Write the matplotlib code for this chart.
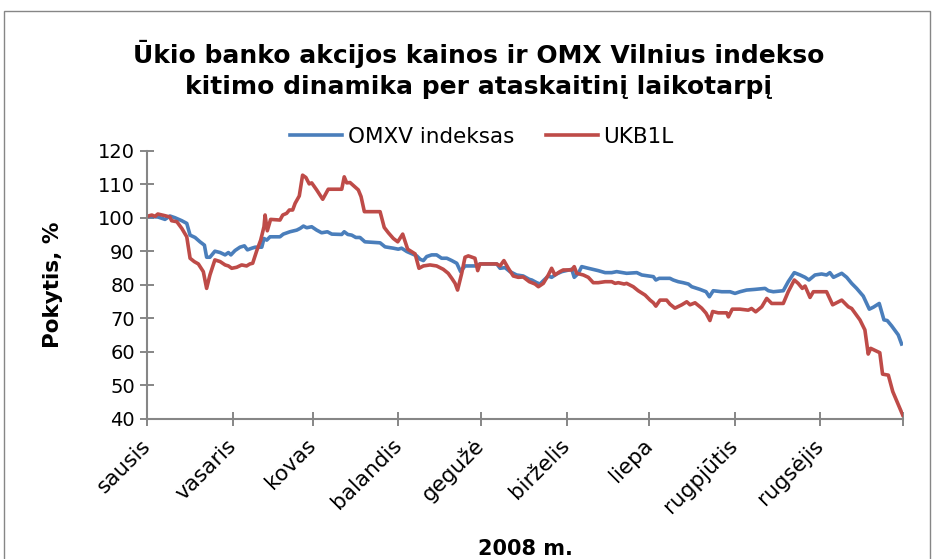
import numpy as np
import matplotlib
matplotlib.use("Agg")
import matplotlib.pyplot as plt
from matplotlib.patches import Rectangle
from matplotlib.transforms import ScaledTranslation

# days since 2008-01-01 and % change
omx_days = [0.0, 3.9, 6.4, 8.2, 10.0, 12.5, 14.3, 15.5, 17.3, 19.1, 20.7, 21.5, 22.7, 24.5, 26.4,
            28.2, 29.4, 30.3, 31.8, 33.6, 35.2, 36.3, 37.9, 39.1, 41.5, 42.3, 43.3, 44.5, 48.1,
            49.3, 51.7, 54.2, 55.4, 56.6, 57.8, 59.6, 61.4, 63.2, 65.3, 66.9, 70.5, 71.4, 72.7,
            74.1, 75.6, 77.1, 78.9, 84.4, 86.2, 89.2, 91.0, 92.2, 94.1, 97.7, 98.9, 100.1, 101.3,
            103.1, 104.9, 106.7, 108.6, 110.4, 112.2, 113.6, 115.2, 119.4, 120.6, 126.7, 127.9,
            129.7, 131.5, 133.9, 136.3, 138.5, 139.4, 141.2, 142.4, 143.6, 145.4, 146.6, 148.4,
            150.3, 153.9, 154.8, 156.3, 157.5, 159.9, 163.5, 166.0, 168.4, 170.2, 173.8, 177.5,
            179.3, 181.7, 183.5, 184.4, 185.6, 189.5, 190.7, 192.5, 194.3, 196.2, 197.4, 200.4,
            202.6, 203.8, 205.2, 208.3, 211.3, 213.1, 214.9, 217.3, 220.3, 224.0, 225.2, 227.0,
            230.6, 232.4, 234.6, 236.7, 238.5, 239.9, 242.1, 244.5, 246.3, 247.5, 248.8, 251.8,
            253.6, 255.4, 257.2, 259.6, 261.8, 263.3, 265.4, 267.1, 268.3, 269.9, 272.3, 273.5]
omx_vals = [100.4, 100.2, 99.5, 100.5, 100.0, 99.1, 98.3, 94.8, 94.1, 92.8, 91.8, 88.2, 88.2, 90.0, 89.6,
            88.9, 89.6, 88.9, 90.2, 91.2, 91.6, 90.4, 90.9, 91.2, 91.2, 93.8, 93.3, 94.3, 94.3,
            95.1, 95.8, 96.3, 96.8, 97.5, 97.0, 97.3, 96.3, 95.5, 95.8, 95.1, 95.0, 95.8, 95.0,
            94.8, 94.1, 94.1, 92.8, 92.5, 91.3, 90.9, 90.6, 90.9, 89.9, 88.6, 87.6, 87.2, 88.4,
            88.9, 88.9, 87.9, 87.9, 87.2, 86.4, 83.9, 85.6, 85.6, 86.2, 86.2, 84.9,
            85.1, 83.9, 82.9, 82.6, 81.6, 81.4, 80.6, 80.2, 81.2, 82.6, 82.2, 83.2,
            83.9, 84.6, 82.2, 83.4, 85.4, 84.9, 84.2, 83.6, 83.6, 83.9, 83.4, 83.6,
            82.9, 82.6, 82.4, 81.4, 81.9, 81.9, 81.4, 80.9, 80.6, 80.2, 79.4, 78.6,
            77.9, 76.4, 78.2, 77.9, 77.9, 77.4, 77.9, 78.4, 78.6, 78.9, 78.2, 77.9,
            78.2, 80.9, 83.6, 82.9, 82.2, 81.4, 82.9, 83.2, 82.9, 83.6, 82.2, 83.4,
            82.2, 80.4, 78.9, 76.6, 72.7, 73.3, 74.4, 69.5, 69.3, 67.7, 65.0, 62.3]

ukb_days = [0.0, 1.6, 2.8, 3.8, 6.4, 8.2, 8.8, 10.7, 12.5, 14.3, 15.5, 17.0, 18.5, 20.3, 21.5, 22.7,
            24.5, 26.4, 28.2, 29.4, 30.6, 32.4, 34.2, 36.0, 37.2, 38.2, 39.7, 41.1, 42.3, 42.7,
            43.5, 44.7, 48.1, 49.1, 50.5, 51.5, 52.7, 53.6, 55.1, 56.3, 57.5, 58.7, 59.6, 61.4,
            63.6, 65.6, 70.5, 71.4, 72.3, 73.5, 76.5, 77.5, 78.7, 84.4, 85.9, 87.4, 89.2, 90.8,
            92.6, 94.4, 97.1, 98.5, 100.1, 102.5, 104.9, 107.3, 109.1, 110.4, 111.6, 112.5,
            114.0, 115.2, 116.4, 118.8, 119.8, 120.6, 126.7, 127.9, 129.3, 130.9, 132.7, 134.5,
            136.3, 138.5, 140.6, 141.8, 143.6, 145.4, 146.6, 147.8, 149.6, 150.8, 153.9, 154.8,
            155.7, 158.1, 159.9, 161.7, 163.5, 166.0, 168.4, 169.6, 170.8, 172.9, 173.8, 176.2,
            178.0, 180.5, 182.3, 183.5, 184.4, 185.9, 188.3, 189.5, 191.3, 193.8, 195.6, 196.8,
            198.6, 201.0, 202.6, 204.0, 205.0, 207.0, 210.1, 210.7, 212.1, 214.9, 217.9, 219.1,
            220.6, 222.8, 224.6, 226.4, 230.6, 232.4, 234.6, 236.0, 237.5, 238.5, 240.3, 241.5,
            246.3, 248.5, 251.8, 254.2, 255.4, 258.4, 260.2, 261.4, 262.3, 265.6, 266.6, 268.7,
            270.3, 273.9]
ukb_vals = [100.4, 100.8, 100.4, 101.1, 100.6, 100.2, 99.1, 98.8, 96.8, 94.3, 87.9, 86.9, 86.2, 83.9, 78.9, 82.9,
            87.4, 86.9, 85.9, 85.6, 84.9, 85.2, 85.9, 85.6, 86.2, 86.4, 90.2, 93.3, 97.3, 100.8,
            96.1, 99.5, 99.3, 100.8, 101.3, 102.3, 102.3, 104.3, 106.5, 112.7, 112.0, 110.1, 110.4, 108.3,
            105.5, 108.5, 108.5, 112.2, 110.4, 110.5, 108.3, 106.3, 101.8, 101.8, 97.1, 95.5, 93.8, 92.8,
            95.1, 90.6, 89.2, 84.9, 85.6, 85.9, 85.6, 84.6, 83.4, 81.9, 80.4, 78.4,
            83.4, 88.2, 88.6, 87.9, 84.2, 86.2, 86.2, 85.6, 87.2, 84.9, 82.6, 82.2,
            82.3, 80.9, 80.2, 79.4, 80.4, 82.9, 84.9, 82.9, 83.9, 84.4, 84.4, 85.4,
            83.4, 82.9, 82.2, 80.6, 80.6, 80.9, 80.9, 80.4, 80.6, 80.2, 80.4, 79.4,
            78.2, 76.9, 75.4, 74.6, 73.6, 75.4, 75.4, 74.2, 73.0, 74.0, 74.9, 74.0,
            74.6, 73.0, 71.5, 69.3, 72.0, 71.6, 71.6, 70.4, 72.7, 72.7, 72.4, 72.9,
            71.9, 73.4, 75.9, 74.4, 74.4, 77.9, 81.4, 80.4, 78.9, 79.6, 76.2, 77.9,
            77.9, 74.0, 75.4, 73.4, 72.9, 69.5, 66.5, 59.3, 61.0, 59.7, 53.3, 53.0,
            48.1, 41.1]

months = ["sausis", "vasaris", "kovas", "balandis", "gegužė", "birželis",
          "liepa", "rugpjūtis", "rugsėjis", ""]

blue = "#4A7EBB"
red = "#BE4B48"
axis_grey = "#868686"

month_starts = (np.arange("2008-01", "2008-11", dtype="datetime64[M]").astype("datetime64[D]")
                - np.datetime64("2008-01-01")).astype(int)

plt.rcParams["font.family"] = ["DejaVu Sans"]

fig = plt.figure(figsize=(9.36, 5.59), dpi=100)
ax = fig.add_axes([0.1574, 0.251, 0.8073, 0.4794])

ax.plot(omx_days, omx_vals, color=blue, lw=2.6, label="OMXV indeksas")
ax.plot(ukb_days, ukb_vals, color=red, lw=2.6, label="UKB1L")

ax.set_xlim(0, month_starts[-1])
ax.set_ylim(40, 120)
ax.set_yticks(np.arange(40, 121, 10))
ax.set_xticks(month_starts)
ax.set_xticklabels(months, rotation=45, ha="right", va="center",
                   rotation_mode="anchor", fontsize=15.5)
shift = ScaledTranslation(10 / 100, 0, fig.dpi_scale_trans)
for lab in ax.get_xticklabels():
    lab.set_transform(lab.get_transform() + shift)
ax.tick_params(axis="y", labelsize=14, direction="inout", length=10, width=1.4,
               color=axis_grey, pad=4)
ax.tick_params(axis="x", direction="inout", length=10, width=1.4,
               color=axis_grey, pad=12)

for s in ["top", "right"]:
    ax.spines[s].set_visible(False)
for s in ["left", "bottom"]:
    ax.spines[s].set_color(axis_grey)
    ax.spines[s].set_linewidth(1.5)

ax.set_ylabel("Pokytis, %", fontsize=15.5, fontweight="bold")
ax.yaxis.set_label_coords(-0.111, 0.5)

fig.text(0.511, 0.876, "Ūkio banko akcijos kainos ir OMX Vilnius indekso\n"
         "kitimo dinamika per ataskaitinį laikotarpį",
         ha="center", va="center", fontsize=18, fontweight="bold", linespacing=1.38)

fig.text(0.561, 0.018, "2008 m.", ha="center", va="center", fontsize=15,
         fontweight="bold", family=["Liberation Sans Narrow", "DejaVu Sans"])

fig.legend(loc="center", bbox_to_anchor=(482 / 936, 1 - 137 / 559), ncol=2,
           frameon=False, fontsize=15.5, handlelength=2.4, handletextpad=0.25,
           columnspacing=1.5)

fig.patches.append(Rectangle((4 / 936, -0.02), 926 / 936, 1.0, transform=fig.transFigure,
                             fill=False, edgecolor=axis_grey, lw=1))

fig.savefig("out.png", dpi=100)
